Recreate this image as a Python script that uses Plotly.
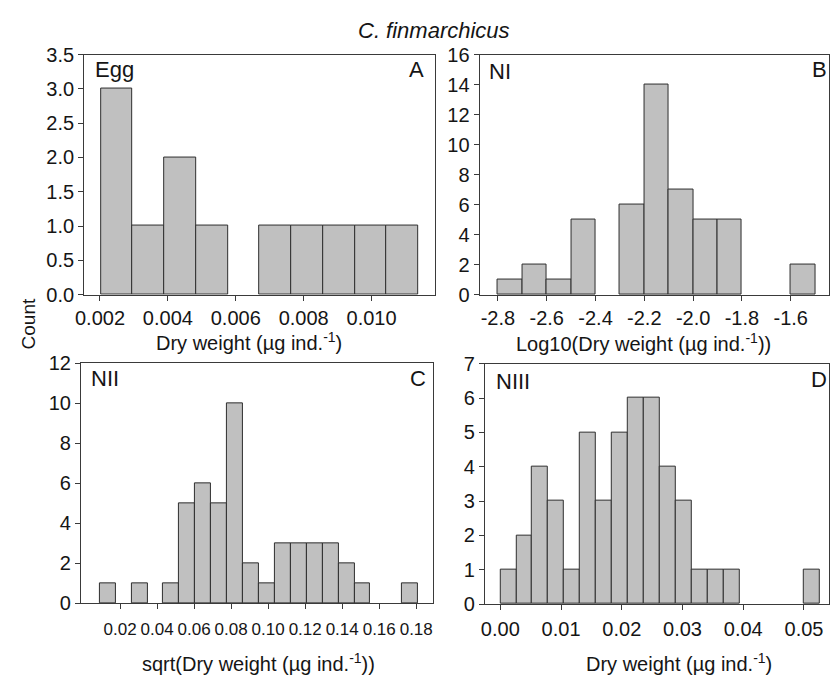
import plotly.graph_objects as go

# ---------------- data ----------------
main_title = "<i>C. finmarchicus</i>"
y_title = "Count"

# Panel A – Egg, dry weight
egg_edges = [0.00203, 0.00296, 0.00390, 0.00483, 0.00577, 0.00670,
             0.00764, 0.00857, 0.00951, 0.01044, 0.01137]
egg_counts = [3, 1, 2, 1, 0, 1, 1, 1, 1, 1]
egg_xticks = [0.002, 0.004, 0.006, 0.008, 0.010]
egg_xticklabels = ["0.002", "0.004", "0.006", "0.008", "0.010"]
egg_yticks = [0.0, 0.5, 1.0, 1.5, 2.0, 2.5, 3.0, 3.5]
egg_yticklabels = ["0.0", "0.5", "1.0", "1.5", "2.0", "2.5", "3.0", "3.5"]

# Panel B – NI, log10 dry weight
ni_edges = [-2.8, -2.7, -2.6, -2.5, -2.4, -2.3, -2.2, -2.1, -2.0,
            -1.9, -1.8, -1.7, -1.6, -1.5]
ni_counts = [1, 2, 1, 5, 0, 6, 14, 7, 5, 5, 0, 0, 2]
ni_xticks = [-2.8, -2.6, -2.4, -2.2, -2.0, -1.8, -1.6]
ni_xticklabels = ["-2.8", "-2.6", "-2.4", "-2.2", "-2.0", "-1.8", "-1.6"]
ni_yticks = [0, 2, 4, 6, 8, 10, 12, 14, 16]
ni_yticklabels = ["0", "2", "4", "6", "8", "10", "12", "14", "16"]

# Panel C – NII, sqrt dry weight
nii_edges = [0.0090, 0.0176, 0.0262, 0.0348, 0.0434, 0.0520, 0.0606,
             0.0692, 0.0778, 0.0864, 0.0950, 0.1036, 0.1122, 0.1208,
             0.1294, 0.1380, 0.1466, 0.1552, 0.1638, 0.1724, 0.1810]
nii_counts = [1, 0, 1, 0, 1, 5, 6, 5, 10, 2, 1, 3, 3, 3, 3, 2, 1, 0, 0, 1]
nii_xticks = [0.02, 0.04, 0.06, 0.08, 0.10, 0.12, 0.14, 0.16, 0.18]
nii_xticklabels = ["0.02", "0.04", "0.06", "0.08", "0.10", "0.12",
                   "0.14", "0.16", "0.18"]
nii_yticks = [0, 2, 4, 6, 8, 10, 12]
nii_yticklabels = ["0", "2", "4", "6", "8", "10", "12"]

# Panel D – NIII, dry weight
niii_edges = [0.0, 0.00263, 0.00526, 0.00789, 0.01052, 0.01315, 0.01578,
              0.01841, 0.02104, 0.02367, 0.0263, 0.02893, 0.03156,
              0.03419, 0.03682, 0.03945, 0.04208, 0.04471, 0.04734,
              0.04997, 0.0526]
niii_counts = [1, 2, 4, 3, 1, 5, 3, 5, 6, 6, 4, 3, 1, 1, 1, 0, 0, 0, 0, 1]
niii_xticks = [0.00, 0.01, 0.02, 0.03, 0.04, 0.05]
niii_xticklabels = ["0.00", "0.01", "0.02", "0.03", "0.04", "0.05"]
niii_yticks = [0, 1, 2, 3, 4, 5, 6, 7]
niii_yticklabels = ["0", "1", "2", "3", "4", "5", "6", "7"]

stage_labels = ["Egg", "NI", "NII", "NIII"]
panel_letters = ["A", "B", "C", "D"]
x_titles = ["Dry weight (µg ind.<sup>-1</sup>)",
            "Log10(Dry weight (µg ind.<sup>-1</sup>))",
            "sqrt(Dry weight (µg ind.<sup>-1</sup>))",
            "Dry weight (µg ind.<sup>-1</sup>)"]

# ---------------- figure ----------------
W, H = 830, 688
FONT = "Liberation Sans, Arial, sans-serif"
BAR_FILL = "#c0c0c0"
BAR_LINE = "#2e2e2e"
AXIS_COLOR = "#3a3a3a"
TEXT_COLOR = "#151515"


def px(x):
    return x / W


def py(y):
    return 1 - y / H


panels = [
    dict(edges=egg_edges, counts=egg_counts, xt=egg_xticks, xtl=egg_xticklabels,
         yt=egg_yticks, ytl=egg_yticklabels, xr=[0.001534, 0.011864], yr=[0, 3.5],
         box=(76, 45, 430.5, 293), xfs=20, yfs=20, xstand=0,
         xtitle_pos=(243, 341), stage_pos=(85, 60), letter_pos=(422, 60)),
    dict(edges=ni_edges, counts=ni_counts, xt=ni_xticks, xtl=ni_xticklabels,
         yt=ni_yticks, ytl=ni_yticklabels, xr=[-2.8754, -1.443], yr=[0, 16],
         box=(475.7, 45, 829, 293.3), xfs=20, yfs=20, xstand=0,
         xtitle_pos=(641, 342), stage_pos=(483, 63), letter_pos=(829, 60)),
    dict(edges=nii_edges, counts=nii_counts, xt=nii_xticks, xtl=nii_xticklabels,
         yt=nii_yticks, ytl=nii_yticklabels, xr=[-0.00116, 0.18924], yr=[0, 12],
         box=(72.7, 364, 429, 611.7), xfs=17, yfs=20, xstand=5,
         xtitle_pos=(252, 673), stage_pos=(81, 380), letter_pos=(424, 380)),
    dict(edges=niii_edges, counts=niii_counts, xt=niii_xticks, xtl=niii_xticklabels,
         yt=niii_yticks, ytl=niii_yticklabels, xr=[-0.00256, 0.05412], yr=[0, 7],
         box=(481, 364.3, 829, 612.7), xfs=20, yfs=20, xstand=2,
         xtitle_pos=(677, 673), stage_pos=(490, 383), letter_pos=(829, 381)),
]

fig = go.Figure()
annotations = []
layout_axes = {}

for i, p in enumerate(panels):
    n = "" if i == 0 else str(i + 1)
    edges = p["edges"]
    mids, widths, counts = [], [], []
    for a, b, c in zip(edges[:-1], edges[1:], p["counts"]):
        if c > 0:  # empty bins draw nothing
            mids.append((a + b) / 2)
            widths.append(b - a)
            counts.append(c)
    fig.add_trace(go.Bar(
        x=mids, y=counts, width=widths,
        xaxis="x" + n, yaxis="y" + n,
        marker=dict(color=BAR_FILL, line=dict(color=BAR_LINE, width=1)),
        showlegend=False, hoverinfo="x+y",
    ))
    x0, y0, x1, y1 = p["box"]
    layout_axes["xaxis" + n] = dict(
        domain=[px(x0), px(x1)], range=p["xr"], anchor="y" + n,
        tickvals=p["xt"], ticktext=p["xtl"], ticks="outside", ticklen=5,
        tickangle=0,
        tickcolor=AXIS_COLOR, showline=True, mirror=True, linecolor=AXIS_COLOR,
        linewidth=1, showgrid=False, zeroline=False,
        ticklabelstandoff=p["xstand"],
        tickfont=dict(family=FONT, size=p["xfs"], color=TEXT_COLOR),
    )
    layout_axes["yaxis" + n] = dict(
        domain=[py(y1), py(y0)], range=p["yr"], anchor="x" + n,
        tickvals=p["yt"], ticktext=p["ytl"], ticks="outside", ticklen=5,
        tickangle=0,
        tickcolor=AXIS_COLOR, showline=True, mirror=True, linecolor=AXIS_COLOR,
        linewidth=1, showgrid=False, zeroline=False,
        tickfont=dict(family=FONT, size=p["yfs"], color=TEXT_COLOR),
    )
    tx, ty = p["xtitle_pos"]
    annotations.append(dict(text=x_titles[i], x=px(tx), y=py(ty), xref="paper",
                            yref="paper", xanchor="center", yanchor="middle",
                            showarrow=False, font=dict(family=FONT, size=20, color=TEXT_COLOR)))
    sx, sy = p["stage_pos"]
    annotations.append(dict(text=stage_labels[i], x=px(sx), y=py(sy), xref="paper",
                            yref="paper", xanchor="left", yanchor="middle",
                            showarrow=False, font=dict(family=FONT, size=22, color=TEXT_COLOR)))
    lx, ly = p["letter_pos"]
    annotations.append(dict(text=panel_letters[i], x=px(lx), y=py(ly), xref="paper",
                            yref="paper", xanchor="right", yanchor="middle",
                            showarrow=False, font=dict(family=FONT, size=22, color=TEXT_COLOR)))

annotations.append(dict(text=main_title, x=px(430), y=py(20), xref="paper", yref="paper",
                        xanchor="center", yanchor="middle", showarrow=False,
                        font=dict(family=FONT, size=22, color=TEXT_COLOR)))
annotations.append(dict(text=y_title, x=px(20), y=py(323), xref="paper", yref="paper",
                        xanchor="center", yanchor="middle", textangle=-90, showarrow=False,
                        font=dict(family=FONT, size=19, color=TEXT_COLOR)))

fig.update_layout(
    width=W, height=H, autosize=False,
    margin=dict(l=0, r=0, t=0, b=0),
    paper_bgcolor="white", plot_bgcolor="white",
    bargap=0, barmode="overlay",
    annotations=annotations,
    **layout_axes,
)

fig.write_html("out.html")
